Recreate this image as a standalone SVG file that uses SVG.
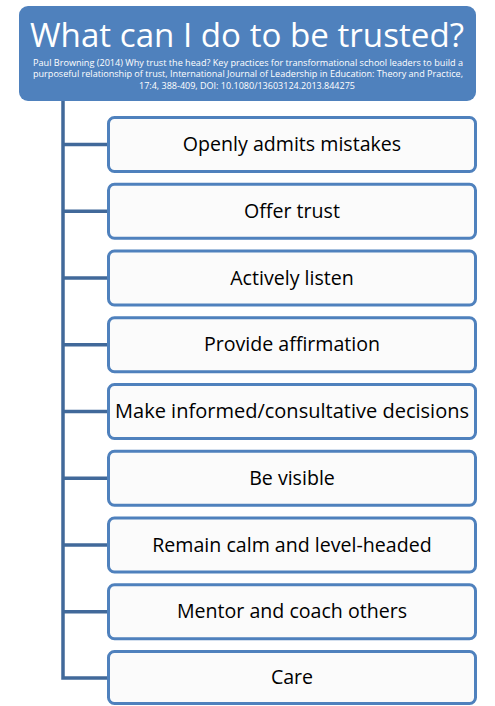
<svg xmlns="http://www.w3.org/2000/svg" width="495" height="706" viewBox="0 0 495 706">
<defs>
<style>
.box{fill:#fbfbfb;stroke:#4f81bd;stroke-width:3}
.lbl{font-family:"Open Sans","Liberation Sans",sans-serif;font-size:19.6px;fill:#000;text-anchor:middle}
.conn{stroke:#41699a;stroke-width:3.5;fill:none}
.cite{font-family:"Open Sans","Liberation Sans",sans-serif;font-size:8.8px;fill:#fff}
</style>
</defs>
<rect width="495" height="706" fill="#fff"/>
<g id="header">
<rect x="19" y="6" width="457" height="95" rx="9" fill="#4f81bd"/>
<text x="247" y="47" font-family="Open Sans, Liberation Sans, sans-serif" font-size="33" fill="#fff" text-anchor="middle" textLength="434" lengthAdjust="spacingAndGlyphs">What can I do to be trusted?</text>
<text class="cite" x="33" y="66" textLength="430" lengthAdjust="spacingAndGlyphs">Paul Browning (2014) Why trust the head? Key practices for transformational school leaders to build a</text>
<text class="cite" x="33" y="77" textLength="430" lengthAdjust="spacingAndGlyphs">purposeful relationship of trust, International Journal of Leadership in Education: Theory and Practice,</text>
<text class="cite" x="247" y="89" text-anchor="middle" textLength="216" lengthAdjust="spacingAndGlyphs">17:4, 388-409, DOI: 10.1080/13603124.2013.844275</text>
</g>
<g id="connectors">
<path class="conn" d="M63 101 V678 H108"/>
<path class="conn" d="M63 144.5 H108 M63 211.2 H108 M63 278 H108 M63 344.7 H108 M63 411.5 H108 M63 478.2 H108 M63 545 H108 M63 611.7 H108"/>
</g>
<g id="n1"><rect class="box" x="108.5" y="117.5" width="367" height="54" rx="6"/><text class="lbl" x="292" y="151">Openly admits mistakes</text></g>
<g id="n2"><rect class="box" x="108.5" y="184.2" width="367" height="54" rx="6"/><text class="lbl" x="292" y="217.7">Offer trust</text></g>
<g id="n3"><rect class="box" x="108.5" y="251" width="367" height="54" rx="6"/><text class="lbl" x="292" y="284.5">Actively listen</text></g>
<g id="n4"><rect class="box" x="108.5" y="317.7" width="367" height="54" rx="6"/><text class="lbl" x="292" y="351.2">Provide affirmation</text></g>
<g id="n5"><rect class="box" x="108.5" y="384.5" width="367" height="54" rx="6"/><text class="lbl" x="292" y="418" textLength="354" lengthAdjust="spacingAndGlyphs">Make informed/consultative decisions</text></g>
<g id="n6"><rect class="box" x="108.5" y="451.2" width="367" height="54" rx="6"/><text class="lbl" x="292" y="484.7">Be visible</text></g>
<g id="n7"><rect class="box" x="108.5" y="518" width="367" height="54" rx="6"/><text class="lbl" x="292" y="551.5">Remain calm and level-headed</text></g>
<g id="n8"><rect class="box" x="108.5" y="584.7" width="367" height="54" rx="6"/><text class="lbl" x="292" y="618.2">Mentor and coach others</text></g>
<g id="n9"><rect class="box" x="108.5" y="651.5" width="367" height="52" rx="6"/><text class="lbl" x="292" y="684">Care</text></g>
</svg>
